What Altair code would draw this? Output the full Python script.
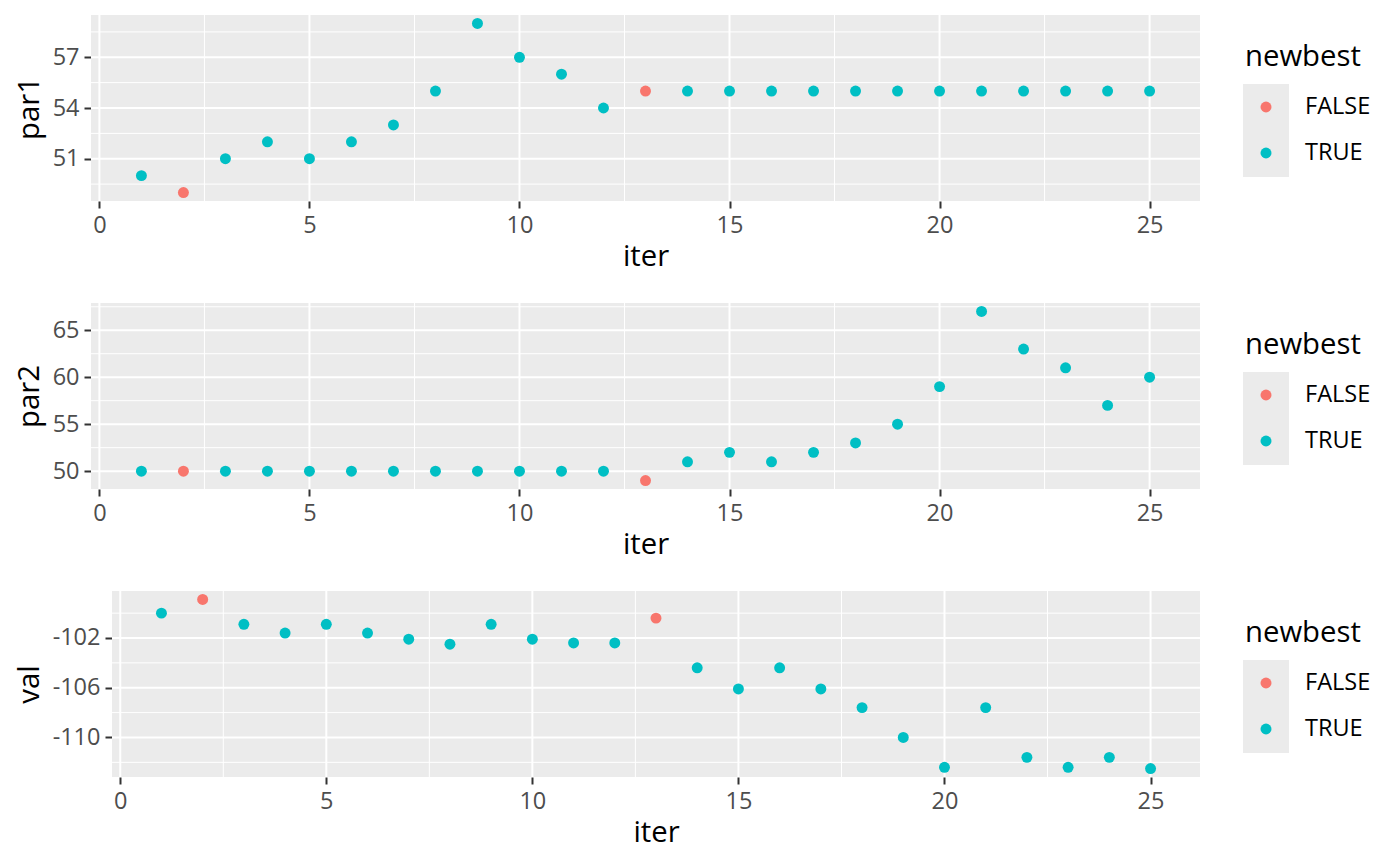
import altair as alt
import pandas as pd

# ---- data ----
iters = list(range(1, 26))
par1 = [50, 49, 51, 52, 51, 52, 53, 55, 59, 57, 56, 54, 55,
        55, 55, 55, 55, 55, 55, 55, 55, 55, 55, 55, 55]
par2 = [50, 50, 50, 50, 50, 50, 50, 50, 50, 50, 50, 50, 49,
        51, 52, 51, 52, 53, 55, 59, 67, 63, 61, 57, 60]
val = [-100.0, -98.9, -100.9, -101.6, -100.9, -101.6, -102.1, -102.5, -100.9,
       -102.1, -102.4, -102.4, -100.4, -104.4, -106.1, -104.4, -106.1, -107.6,
       -110.0, -112.4, -107.6, -111.6, -112.4, -111.6, -112.5]
newbest = ["TRUE", "FALSE", "TRUE", "TRUE", "TRUE", "TRUE", "TRUE", "TRUE", "TRUE",
           "TRUE", "TRUE", "TRUE", "FALSE", "TRUE", "TRUE", "TRUE", "TRUE", "TRUE",
           "TRUE", "TRUE", "TRUE", "TRUE", "TRUE", "TRUE", "TRUE"]

categories = ["FALSE", "TRUE"]
palette = ["#F8766D", "#00BFC4"]

x_major = [0, 5, 10, 15, 20, 25]
x_minor = [2.5, 7.5, 12.5, 17.5, 22.5]
x_domain = [-0.2, 26.2]

panels = [
    # (field, domain, major ticks, minor ticks, left inset of the panel in px)
    ("par1", [48.5, 59.5], [51, 54, 57], [49.5, 52.5, 55.5, 58.5], 0),
    ("par2", [48.1, 67.9], [50, 55, 60, 65], [52.5, 57.5, 62.5, 67.5], 0),
    ("val", [-113.18, -98.22], [-110, -106, -102], [-112, -108, -104, -100], 21),
]

df = pd.DataFrame({"iter": iters, "par1": par1, "par2": par2, "val": val,
                   "newbest": newbest})
legend_df = pd.DataFrame({"newbest": categories})
legend_title_df = pd.DataFrame({"t": ["newbest"]})

FONT = "Open Sans"
color_scale = alt.Scale(domain=categories, range=palette)
PW = 1109
PH = 186
BG = "#EBEBEB"


def make_panel(field, domain, major, minor, inset):
    xs = alt.Scale(domain=x_domain, nice=False, zero=False, range=[inset, PW])
    ys = alt.Scale(domain=domain, nice=False, zero=False)
    xax = alt.Axis(values=x_major, title="iter", grid=False,
                   titleX=inset + (PW - inset) / 2)
    yax = alt.Axis(values=major, title=field, grid=False, offset=-inset,
                   labelExpr="'' + datum.value")
    bg = alt.Chart(legend_title_df).mark_rect(color=BG).encode(
        x=alt.value(inset), x2=alt.value(PW), y=alt.value(0), y2=alt.value(PH))
    minor_x = alt.Chart(pd.DataFrame({"mx": x_minor})).mark_rule(
        color="white", strokeWidth=1).encode(
        x=alt.X("mx:Q", scale=xs, axis=xax, title="iter"))
    major_x = alt.Chart(pd.DataFrame({"gx": x_major})).mark_rule(
        color="white", strokeWidth=2).encode(
        x=alt.X("gx:Q", scale=xs, axis=xax, title="iter"))
    minor_y = alt.Chart(pd.DataFrame({"my": minor})).mark_rule(
        color="white", strokeWidth=1).encode(
        y=alt.Y("my:Q", scale=ys, axis=yax, title=field),
        x=alt.value(inset), x2=alt.value(PW))
    major_y = alt.Chart(pd.DataFrame({"gy": major})).mark_rule(
        color="white", strokeWidth=2).encode(
        y=alt.Y("gy:Q", scale=ys, axis=yax, title=field),
        x=alt.value(inset), x2=alt.value(PW))
    pts = alt.Chart(df).mark_circle(size=120, opacity=1).encode(
        x=alt.X("iter:Q", scale=xs, axis=xax, title="iter"),
        y=alt.Y(f"{field}:Q", scale=ys, axis=yax, title=field),
        color=alt.Color("newbest:N", scale=color_scale, legend=None),
    )
    return alt.layer(bg, minor_x, minor_y, major_x, major_y, pts).properties(
        width=PW, height=PH,
        view=alt.ViewBackground(fill=None, stroke=None))


def make_legend():
    bg = alt.Chart(legend_title_df).mark_rect(color=BG).encode(
        x=alt.value(0), x2=alt.value(46), y=alt.value(69), y2=alt.value(162))
    ys = alt.Scale(type="point", domain=categories, range=[92, 138], padding=0)
    pts = alt.Chart(legend_df).mark_circle(size=120, opacity=1).encode(
        x=alt.value(23),
        y=alt.Y("newbest:N", scale=ys, axis=None),
        color=alt.Color("newbest:N", scale=color_scale, legend=None))
    labels = alt.Chart(legend_df).mark_text(
        align="left", baseline="middle", font=FONT, fontSize=23.5,
        color="black").encode(
        x=alt.value(62),
        y=alt.Y("newbest:N", scale=ys, axis=None),
        text="newbest:N")
    title = alt.Chart(legend_title_df).mark_text(
        align="left", baseline="alphabetic", font=FONT, fontSize=29.3,
        color="black").encode(
        x=alt.value(2), y=alt.value(51), text="t:N")
    return alt.layer(bg, pts, labels, title).resolve_scale(
        y="independent", color="independent").properties(
        width=140, height=PH,
        view=alt.ViewBackground(fill=None, stroke=None))


rows = []
for field, domain, major, minor, inset in panels:
    rows.append(alt.hconcat(make_panel(field, domain, major, minor, inset),
                            make_legend(), spacing=42))

chart = alt.vconcat(*rows, spacing=30).properties(
    padding={"left": 7, "top": 6, "right": 0, "bottom": 5},
    background="white",
).configure(
    font=FONT,
).configure_view(
    stroke=None,
).configure_axis(
    labelFont=FONT, labelFontSize=23.5, labelColor="#4D4D4D",
    titleFont=FONT, titleFontSize=29.3, titleColor="black",
    titleFontWeight="normal",
    tickColor="#333333", tickWidth=2, tickSize=7, labelPadding=5,
    domain=False,
).configure_axisX(
    titlePadding=6,
).configure_axisY(
    titlePadding=8,
)

chart.save("out.html", embed_options={"renderer": "svg", "actions": False})
